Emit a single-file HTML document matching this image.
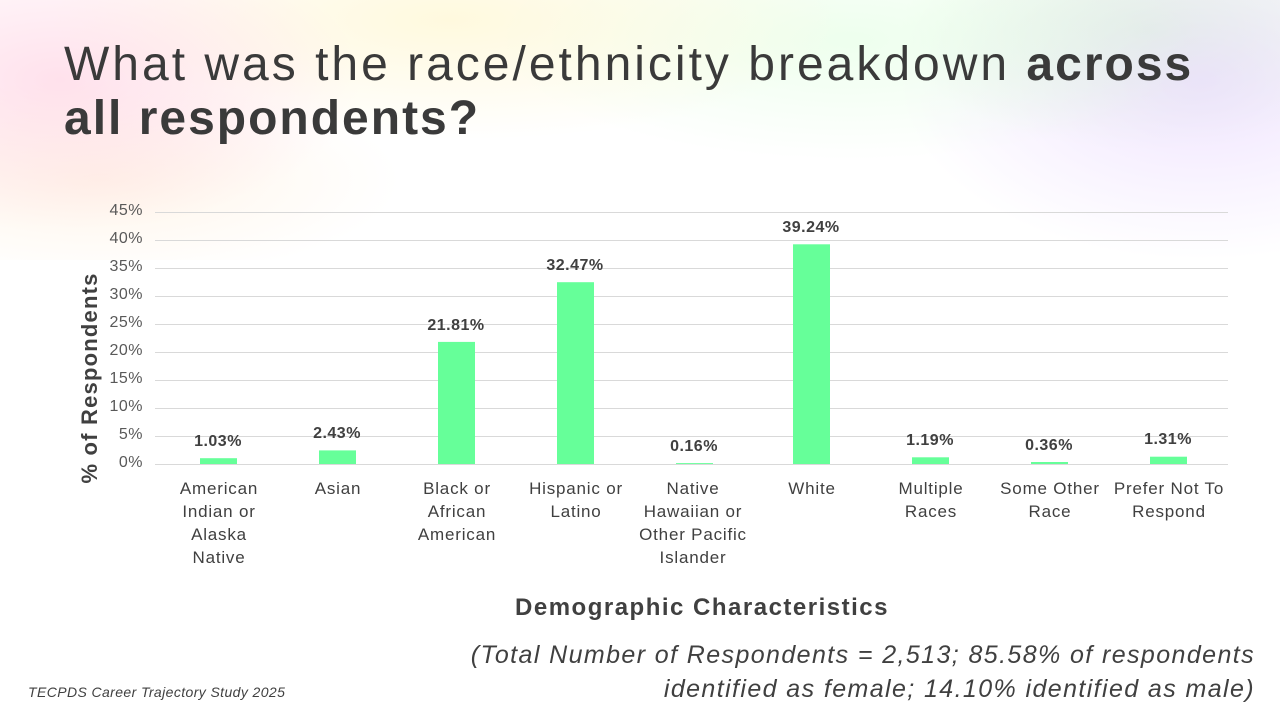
<!DOCTYPE html>
<html><head><meta charset="utf-8"><style>
body{margin:0;width:1280px;height:720px;overflow:hidden;background:#fff;font-family:"Liberation Sans",sans-serif;position:relative}
.bg{position:absolute;left:0;top:0;width:1280px;height:260px;
background:
radial-gradient(ellipse 300px 150px at 60px 80px,rgba(255,200,220,.55),transparent),
radial-gradient(ellipse 400px 120px at 450px 20px,rgba(255,245,200,.6),transparent),
radial-gradient(ellipse 350px 120px at 850px 40px,rgba(220,255,220,.5),transparent),
radial-gradient(ellipse 300px 180px at 1200px 80px,rgba(230,210,255,.6),transparent),
radial-gradient(ellipse 250px 120px at 1150px 30px,rgba(210,250,200,.6),transparent),
radial-gradient(ellipse 300px 100px at 100px 180px,rgba(255,230,200,.4),transparent);}
h1{position:absolute;left:64px;top:38px;margin:0;font-weight:normal;font-size:48px;line-height:54px;color:#3a3a3a;width:1200px;letter-spacing:3px;white-space:nowrap}
h1 b{font-weight:bold;letter-spacing:2px}
.t{position:absolute;font-size:17px;color:#404040;text-align:center;line-height:23px;letter-spacing:0.8px}
.y{position:absolute;font-size:16px;color:#595959;text-align:right;width:40px;left:103px;letter-spacing:0.5px}
.v{position:absolute;font-size:16px;font-weight:bold;color:#404040;text-align:center;width:100px;letter-spacing:0.5px}
</style></head><body>
<div class="bg"></div>
<h1>What was the race/ethnicity breakdown <b>across</b><br><b>all respondents?</b></h1>
<svg style="position:absolute;left:0;top:0" width="1280" height="720">
<g stroke="#d9d9d9" stroke-width="1">
<line x1="155" x2="1228" y1="212.5" y2="212.5"/><line x1="155" x2="1228" y1="240.5" y2="240.5"/>
<line x1="155" x2="1228" y1="268.5" y2="268.5"/><line x1="155" x2="1228" y1="296.5" y2="296.5"/>
<line x1="155" x2="1228" y1="324.5" y2="324.5"/><line x1="155" x2="1228" y1="352.5" y2="352.5"/>
<line x1="155" x2="1228" y1="380.5" y2="380.5"/><line x1="155" x2="1228" y1="408.5" y2="408.5"/>
<line x1="155" x2="1228" y1="436.5" y2="436.5"/><line x1="155" x2="1228" y1="464.5" y2="464.5"/>
</g>
<g fill="#66ff99">
<rect x="200" y="458.2" width="37" height="5.8"/>
<rect x="319" y="450.4" width="37" height="13.6"/>
<rect x="438" y="341.9" width="37" height="122.1"/>
<rect x="557" y="282.2" width="37" height="181.8"/>
<rect x="676" y="463.1" width="37" height="0.9"/>
<rect x="793" y="244.3" width="37" height="219.7"/>
<rect x="912" y="457.3" width="37" height="6.7"/>
<rect x="1031" y="462" width="37" height="2"/>
<rect x="1150" y="456.7" width="37" height="7.3"/>
</g>
<text x="97" y="378" transform="rotate(-90 97 378)" text-anchor="middle" font-family="Liberation Sans" font-weight="bold" font-size="22" letter-spacing="1.2" fill="#404040">% of Respondents</text>
</svg>
<div class="y" style="top:202px">45%</div><div class="y" style="top:230px">40%</div>
<div class="y" style="top:258px">35%</div><div class="y" style="top:286px">30%</div>
<div class="y" style="top:314px">25%</div><div class="y" style="top:342px">20%</div>
<div class="y" style="top:370px">15%</div><div class="y" style="top:398px">10%</div>
<div class="y" style="top:426px">5%</div><div class="y" style="top:454px">0%</div>
<div class="v" style="left:168px;top:433px">1.03%</div>
<div class="v" style="left:287px;top:425px">2.43%</div>
<div class="v" style="left:406px;top:317px">21.81%</div>
<div class="v" style="left:525px;top:257px">32.47%</div>
<div class="v" style="left:644px;top:438px">0.16%</div>
<div class="v" style="left:761px;top:219px">39.24%</div>
<div class="v" style="left:880px;top:432px">1.19%</div>
<div class="v" style="left:999px;top:437px">0.36%</div>
<div class="v" style="left:1118px;top:431px">1.31%</div>
<div class="t" style="left:144px;top:477px;width:150px">American<br>Indian or<br>Alaska<br>Native</div>
<div class="t" style="left:263px;top:477px;width:150px">Asian</div>
<div class="t" style="left:382px;top:477px;width:150px">Black or<br>African<br>American</div>
<div class="t" style="left:501px;top:477px;width:150px">Hispanic or<br>Latino</div>
<div class="t" style="left:618px;top:477px;width:150px">Native<br>Hawaiian or<br>Other Pacific<br>Islander</div>
<div class="t" style="left:737px;top:477px;width:150px">White</div>
<div class="t" style="left:856px;top:477px;width:150px">Multiple<br>Races</div>
<div class="t" style="left:975px;top:477px;width:150px">Some Other<br>Race</div>
<div class="t" style="left:1094px;top:477px;width:150px">Prefer Not To<br>Respond</div>
<div style="position:absolute;left:352px;width:700px;top:594px;text-align:center;font-weight:bold;font-size:24px;letter-spacing:1.5px;color:#404040">Demographic Characteristics</div>
<div style="position:absolute;right:25px;top:638px;text-align:right;font-style:italic;font-size:25px;line-height:34px;letter-spacing:1.4px;color:#404040;white-space:nowrap">(Total Number of Respondents = 2,513; 85.58% of respondents<br>identified as female; 14.10% identified as male)</div>
<div style="position:absolute;left:28px;top:684px;font-style:italic;font-size:14px;letter-spacing:0.4px;color:#404040">TECPDS Career Trajectory Study 2025</div>
</body></html>
